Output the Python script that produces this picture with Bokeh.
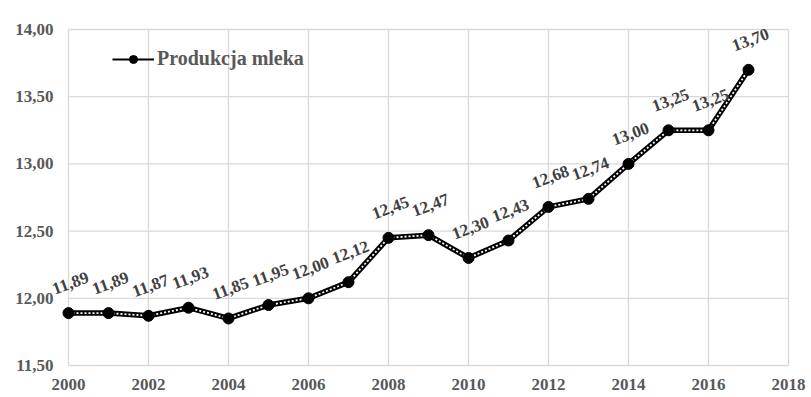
from bokeh.plotting import figure
from bokeh.models import (ColumnDataSource, FixedTicker, CustomJSTickFormatter,
                          LabelSet, Legend, LegendItem)
from bokeh.embed import file_html
from bokeh.resources import INLINE

years = [2000, 2001, 2002, 2003, 2004, 2005, 2006, 2007, 2008,
         2009, 2010, 2011, 2012, 2013, 2014, 2015, 2016, 2017]
values = [11.89, 11.89, 11.87, 11.93, 11.85, 11.95, 12.00, 12.12, 12.45,
          12.47, 12.30, 12.43, 12.68, 12.74, 13.00, 13.25, 13.25, 13.70]
x_ticks = [2000, 2002, 2004, 2006, 2008, 2010, 2012, 2014, 2016, 2018]
y_ticks = [11.5, 12.0, 12.5, 13.0, 13.5, 14.0]
series_name = "Produkcja mleka"

fmt = lambda v: ("%.2f" % v).replace(".", ",")
src = ColumnDataSource(dict(x=years, y=values, lab=[fmt(v) for v in values]))
ygrid_src = ColumnDataSource(dict(y=y_ticks, lab=[fmt(v) for v in y_ticks],
                                  x0=[x_ticks[0]] * len(y_ticks),
                                  x1=[x_ticks[-1]] * len(y_ticks)))
xgrid_src = ColumnDataSource(dict(x=x_ticks, y0=[y_ticks[0]] * len(x_ticks),
                                  y1=[y_ticks[-1]] * len(x_ticks)))

PX = 134.4  # pixels per y unit
# frame extends beyond the axis area so that labels near the edges are not clipped
p = figure(frame_width=786, frame_height=360,
           x_range=(1998.4, 2018.05), y_range=(11.5 - 10 / PX, 14.0 + 14 / PX),
           output_backend="svg", toolbar_location=None,
           min_border_left=4, min_border_right=21,
           min_border_top=15, min_border_bottom=22)
p.background_fill_color = "white"
p.border_fill_color = "white"
p.outline_line_color = None
p.xgrid.visible = False
p.ygrid.visible = False
p.yaxis.visible = False

p.xaxis.ticker = FixedTicker(ticks=x_ticks)
p.xaxis.formatter = CustomJSTickFormatter(code="return tick.toFixed(0);")
ax = p.xaxis[0]
ax.axis_line_color = None
ax.major_tick_line_color = None
ax.minor_tick_line_color = None
ax.major_tick_out = 0
ax.major_tick_in = 0
ax.major_label_text_font = "Liberation Serif"
ax.major_label_text_font_size = "17px"
ax.major_label_text_font_style = "bold"
ax.major_label_text_color = "#595959"
ax.major_label_standoff = 3

# grid
p.segment(x0="x0", y0="y", x1="x1", y1="y", source=ygrid_src,
          line_color="#d9d9d9", line_width=1.3)
p.segment(x0="x", y0="y0", x1="x", y1="y1", source=xgrid_src,
          line_color="#d9d9d9", line_width=1.3)

# y tick labels
p.text(x="x0", y="y", text="lab", source=ygrid_src, x_offset=-15,
       text_align="right", text_baseline="middle",
       text_font={"value": "Liberation Serif"}, text_font_size="17px",
       text_font_style="bold", text_color="#595959")

# legend-only thin line, hidden under the main line
lg_line = p.line("x", "y", source=src, line_color="black", line_width=2.2)
p.line("x", "y", source=src, line_color="black", line_width=5.5)
p.line("x", "y", source=src, line_color="white", line_width=1.8, line_dash="2 2")
dots = p.scatter("x", "y", source=src, size=11, fill_color="black", line_color="black")

lbl = LabelSet(x="x", y="y", text="lab", source=src, x_offset=2, y_offset=30,
               angle=0.35, text_align="center", text_baseline="middle",
               text_font="Liberation Serif", text_font_size="17px",
               text_font_style="bold", text_color="#404040")
p.add_layout(lbl)

legend = Legend(items=[LegendItem(label=series_name, renderers=[lg_line, dots])],
                location=(108, 305), orientation="horizontal",
                glyph_width=42, glyph_height=20, label_standoff=3,
                padding=0, margin=0, spacing=0,
                border_line_color=None, background_fill_alpha=0,
                label_text_font="Liberation Serif", label_text_font_size="20px",
                label_text_font_style="bold", label_text_color="#595959")
p.add_layout(legend)

open("out.html", "w").write(file_html(p, INLINE))
